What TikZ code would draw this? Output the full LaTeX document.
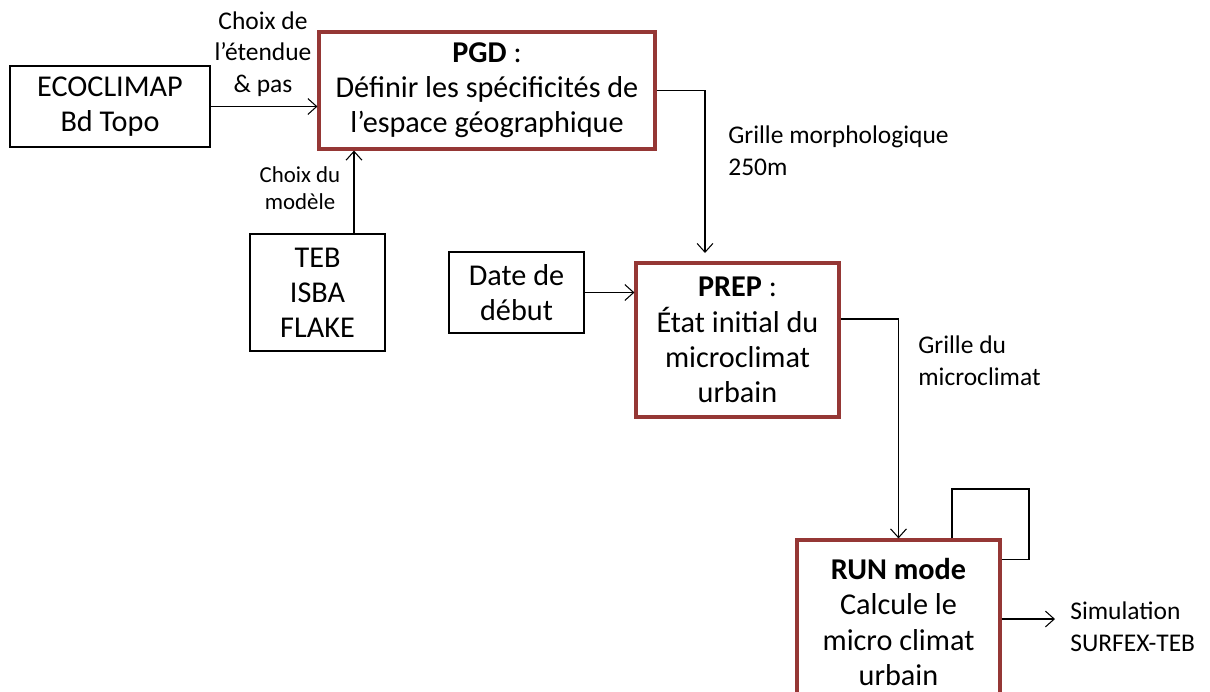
\documentclass[tikz,border=0pt]{standalone}
\usepackage{fontspec}
\setmainfont{Carlito}
\usetikzlibrary{arrows.meta,positioning}
\definecolor{boxred}{HTML}{953735}
\tikzset{
  box/.style={draw,align=center,font=\fontsize{17.2}{20}\selectfont,line width=0.7pt,inner sep=2pt},
  stage/.style={box,draw=boxred,line width=1.8pt},
  arr/.style={-{Straight Barb[length=5pt,width=9pt]},line width=0.6pt},
  lbl/.style={align=center,font=\fontsize{14.5}{18}\selectfont,inner sep=0pt},
  smalllbl/.style={lbl,font=\fontsize{13}{15.5}\selectfont},
}

\begin{document}
\begin{tikzpicture}[x=0.02cm,y=-0.02cm]
\useasboundingbox (0,0) rectangle (1210,691);
% input boxes
\node[box,minimum width=4cm,minimum height=1.62cm] (eco) at (110,106.5) {ECOCLIMAP\\Bd Topo};
\node[box,minimum width=2.7cm,minimum height=2.34cm] (teb) at (317.5,292.5) {TEB\\ISBA\\FLAKE};
\node[box,minimum width=2.7cm,minimum height=1.62cm] (date) at (516.5,292.5) {Date de\\d\'ebut};
% steps of the chain
\node[stage,minimum width=6.72cm,minimum height=2.34cm] (pgd) at (487,90.5) {\textbf{PGD} :\\D\'efinir les sp\'ecificit\'es de\\l'espace g\'eographique};
\node[stage,minimum width=4.06cm,minimum height=3.08cm] (prep) at (737.5,340) {\textbf{PREP} :\\\'Etat initial du\\microclimat\\urbain};
\node[stage,minimum width=4.06cm,minimum height=3.28cm] (run) at (898.5,622) {\textbf{RUN mode}\\Calcule le\\micro climat\\urbain};
% labels
\node[lbl] (etendue) at (263,54) {Choix de\\l'\'etendue\\\& pas};
\node[smalllbl] (modele) at (300,188) {Choix du\\mod\`ele};
\node[lbl,anchor=west,align=left] (morpho) at (728,151) {Grille morphologique\\250m};
\node[lbl,anchor=west,align=left] (gmicro) at (918,361) {Grille du\\microclimat};
\node[lbl,anchor=west,align=left,inner xsep=0.3cm] (sim) at (1055,627) {Simulation\\SURFEX-TEB};
\coordinate (k1) at (705,253);
% connectors
\draw[arr] (eco.east) -- (eco.east -| pgd.west);
\draw[arr] ([xshift=0.73cm]teb.north) -- ([xshift=0.73cm]teb.north |- pgd.south);
\draw[arr] (pgd.east) -| (k1);
\draw[arr] (date.east) -- (date.east -| prep.west);
\draw[arr] ([yshift=0.42cm]prep.east) -| (run.north);
\draw[line width=0.6pt] ([xshift=1.07cm]run.north) |- (1029,489) |- ([yshift=1.26cm]run.east);
\draw[arr] ([yshift=0.06cm]run.east) -- ([yshift=0.06cm]run.east -| sim.west);
\end{tikzpicture}
\end{document}
